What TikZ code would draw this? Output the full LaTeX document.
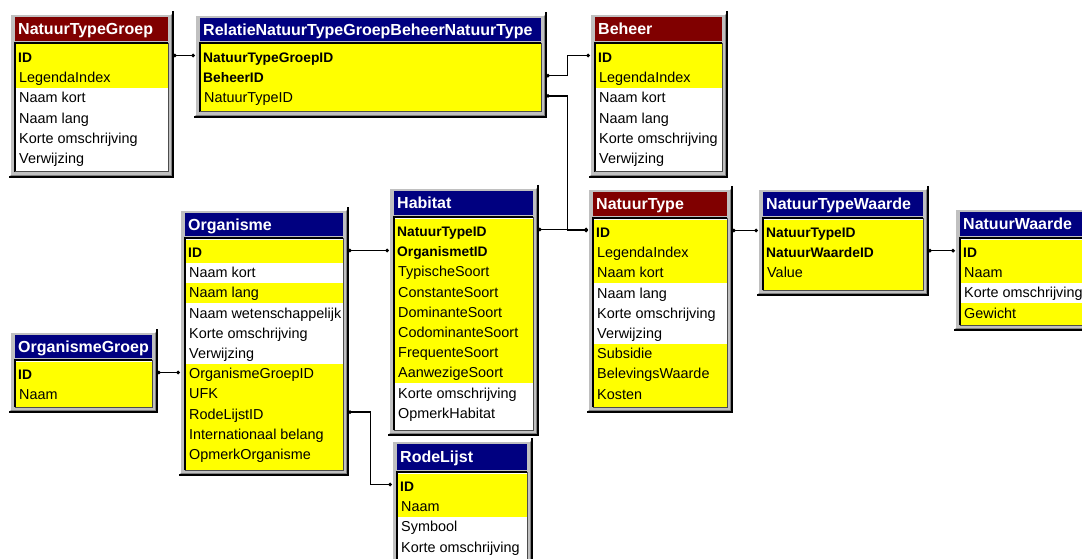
\documentclass[tikz,border=0pt]{standalone}
\usepackage{fontspec}
\setmainfont{Liberation Sans}
\usetikzlibrary{arrows.meta,fit}
\definecolor{maroonT}{HTML}{800000}
\definecolor{navyT}{HTML}{000080}
\definecolor{rowyellow}{HTML}{FFFF00}
\definecolor{framegray}{HTML}{C0C0C0}
\definecolor{shadegray}{HTML}{808080}
\tikzset{
 rowtext/.style={anchor=base west, inner sep=0pt, font=\fontsize{14.4}{16}\selectfont},
 keytext/.style={anchor=base west, inner sep=0pt, font=\fontsize{13.8}{16}\selectfont\bfseries},
 titletext/.style={anchor=base west, inner sep=0pt, text=white, font=\fontsize{16}{18}\selectfont\bfseries},
 conn/.style={line width=1.3pt, {Circle[length=3.5pt]}-{Circle[length=3.5pt]}},
}
\def\codew{w}
\def\codek{k}
\newcommand{\dbtable}[9]{%
 \fill[framegray] (#2,#3) rectangle (#4,#5);
 \node[inner sep=0pt, fit={(#2,#3) (#4,#5)}] (#1) {};
 \draw[line width=1pt, white] (#2+0.5,#5-2) -- (#2+0.5,#3+0.5) -- (#4-2,#3+0.5);
 \draw[line width=1.2pt, shadegray] (#4-1.5,#3+1) -- (#4-1.5,#5-1.5) -- (#2+1,#5-1.5);
 \draw[line width=1.4pt, black] (#4,#3-3) -- (#4,#5) -- (#2-1,#5);
 \fill[#7] (#2+5,#3+3) rectangle (#4-5,#6-2);
 \node[titletext] (#1-title) at (#2+8,{(#3+#6)/2+6.2}) {#8};
 \fill[white] (#2+5,#6) rectangle (#4-5,#5-5);
 \foreach \c/\t [count=\i from 0] in {#9} {
   \pgfmathsetmacro\cy{#6+14.5+20.2*\i}
   \pgfmathsetmacro\bt{\i==0 ? #6+1.5 : \cy-10.1}
   \ifx\c\codew\else \fill[rowyellow] (#2+5,\bt) rectangle (#4-5,\cy+10.1);\fi
   \ifx\c\codek
     \node[keytext] (#1-r\i) at (#2+8,\cy+5) {\t};
   \else
     \node[rowtext] (#1-r\i) at (#2+9,\cy+5) {\t};
   \fi
   \coordinate (#1-c\i) at (#2,\cy-2);
   \global\let\lastcode\c
   \xdef\lastcy{\cy}
 }
 \ifx\lastcode\codew\else
   \begin{pgfonlayer}{background}\end{pgfonlayer}%
   \fill[rowyellow] (#2+5,\lastcy+10) rectangle (#4-5,#5-5);
 \fi
 \draw[line width=1.2pt, black] (#2+5,#5-5) -- (#2+5,#6) -- (#4-5,#6);
 \draw[line width=1pt, black!70] (#4-5,#6) -- (#4-5,#5-5) -- (#2+5,#5-5);
}
\pgfdeclarelayer{background}
\pgfsetlayers{background,main}
\begin{document}
\begin{tikzpicture}[x=1pt,y=-1pt]
\useasboundingbox (0,0) rectangle (1082,559);
\fill[white] (0,0) rectangle (1082,559);
\clip (0,0) rectangle (1082,559);

\dbtable{ntg}{10}{14}{173}{177}{43}{maroonT}{NatuurTypeGroep}{k/ID, y/LegendaIndex, w/Naam kort, w/Naam lang, w/Korte omschrijving, w/Verwijzing}
\dbtable{rel}{195}{15}{546}{117}{43}{navyT}{RelatieNatuurTypeGroepBeheerNatuurType}{k/NatuurTypeGroepID, k/BeheerID, y/NatuurTypeID}
\dbtable{beh}{590}{14}{727}{177}{43}{maroonT}{Beheer}{k/ID, y/LegendaIndex, w/Naam kort, w/Naam lang, w/Korte omschrijving, w/Verwijzing}
\dbtable{nt}{588}{189}{732}{412}{218}{maroonT}{NatuurType}{k/ID, y/LegendaIndex, y/Naam kort, w/Naam lang, w/Korte omschrijving, w/Verwijzing, y/Subsidie, y/BelevingsWaarde, y/Kosten}
\dbtable{ntw}{758}{189}{928}{295}{218}{navyT}{NatuurTypeWaarde}{k/NatuurTypeID, k/NatuurWaardeID, y/Value}
\dbtable{nw}{955}{209}{1100}{330}{238}{navyT}{NatuurWaarde}{k/ID, y/Naam, w/Korte omschrijving, y/Gewicht}
\dbtable{org}{180}{210}{348}{475}{238}{navyT}{Organisme}{k/ID, w/Naam kort, y/Naam lang, w/Naam wetenschappelijk, w/Korte omschrijving, w/Verwijzing, y/OrganismeGroepID, y/UFK, y/RodeLijstID, y/Internationaal belang, y/OpmerkOrganisme}
\dbtable{og}{10}{332}{157}{412}{360}{navyT}{OrganismeGroep}{k/ID, y/Naam}
\dbtable{hab}{389}{188}{538}{435}{217}{navyT}{Habitat}{k/NatuurTypeID, k/OrganismetID, y/TypischeSoort, y/ConstanteSoort, y/DominanteSoort, y/CodominanteSoort, y/FrequenteSoort, y/AanwezigeSoort, w/Korte omschrijving, w/OpmerkHabitat}
\dbtable{rl}{392}{441}{532}{600}{472}{navyT}{RodeLijst}{k/ID, y/Naam, w/Symbool, w/Korte omschrijving}

\draw[conn] (ntg.east |- ntg-c0) -- (rel.west |- ntg-c0);
\draw[conn] (rel.east |- rel-c1) -- ++(21,0) |- (beh.west |- beh-c0);
\draw[conn] (rel.east |- rel-c2) -- ++(21,0) |- (nt.west |- nt-c0);
\draw[conn] (hab.east |- hab-c0) -- (nt.west |- hab-c0);
\draw[conn] (nt.east |- nt-c0) -- (ntw.west |- nt-c0);
\draw[conn] (ntw.east |- ntw-c1) -- (nw.west |- ntw-c1);
\draw[conn] (org.east |- org-c0) -- (hab.west |- org-c0);
\draw[conn] (org.east |- org-c8) -- ++(22,0) |- (rl.west |- rl-c0);
\draw[conn] (og.east |- og-c0) -- (org.west |- og-c0);
\end{tikzpicture}
\end{document}
